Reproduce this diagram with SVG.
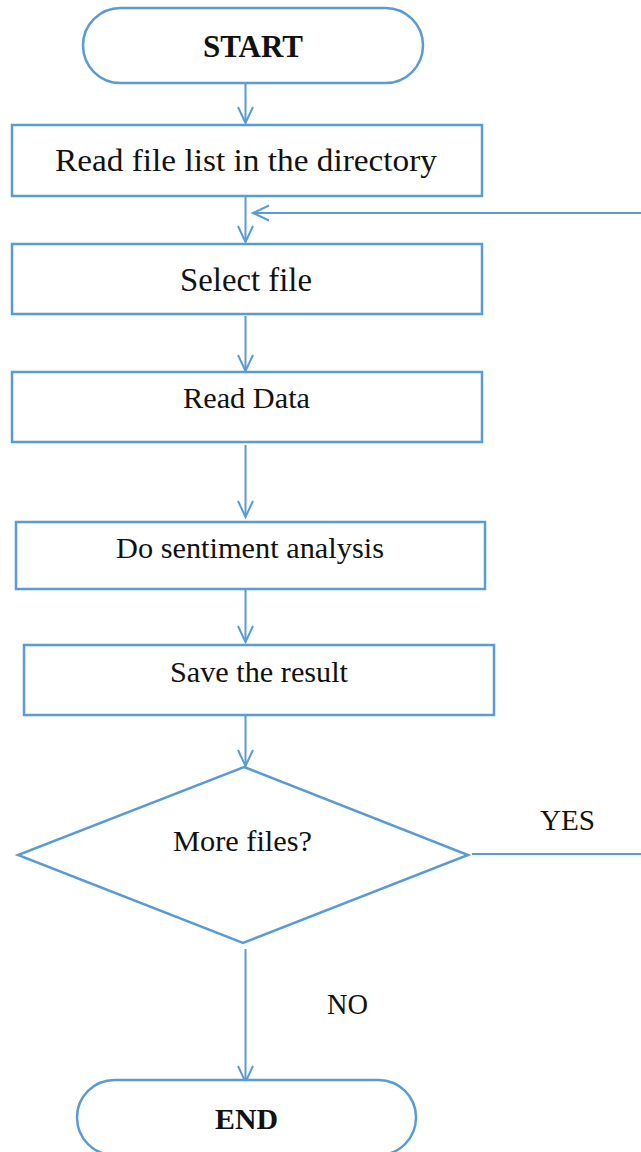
<svg xmlns="http://www.w3.org/2000/svg" width="641" height="1152" viewBox="0 0 641 1152">
<style>
.s{fill:#fff;stroke:#5B9BD5;stroke-width:2.5}
.c{fill:none;stroke:#5B9BD5;stroke-width:2}
.t{font-family:"Liberation Serif","Times New Roman",serif;fill:#111}
.b{font-weight:bold}
</style>
<defs>
<marker id="ah" markerUnits="userSpaceOnUse" markerWidth="20" markerHeight="20" viewBox="-18 -10 20 20" refX="0" refY="0" orient="auto">
<path d="M-16,-7.5 L0,0 L-16,7.5" fill="none" stroke="#5B9BD5" stroke-width="2"/>
</marker>
</defs>
<rect width="641" height="1152" fill="#fff"/>
<g id="connectors">
<line class="c" x1="245.5" y1="84" x2="245.5" y2="123" marker-end="url(#ah)"/>
<line class="c" x1="245.5" y1="197" x2="245.5" y2="242" marker-end="url(#ah)"/>
<line class="c" x1="641" y1="213" x2="253" y2="213" marker-end="url(#ah)"/>
<line class="c" x1="245.5" y1="316" x2="245.5" y2="371" marker-end="url(#ah)"/>
<line class="c" x1="245.5" y1="445" x2="245.5" y2="517" marker-end="url(#ah)"/>
<line class="c" x1="245.5" y1="590" x2="245.5" y2="642" marker-end="url(#ah)"/>
<line class="c" x1="245.5" y1="706" x2="245.5" y2="766" marker-end="url(#ah)"/>
<line class="c" x1="245.5" y1="949" x2="245.5" y2="1082" marker-end="url(#ah)"/>
<line class="c" x1="472" y1="854" x2="641" y2="854"/>
<text class="t" x="540" y="830" font-size="30" textLength="55" lengthAdjust="spacingAndGlyphs">YES</text>
<text class="t" x="327" y="1014" font-size="29" textLength="41" lengthAdjust="spacingAndGlyphs">NO</text>
</g>
<g id="start">
<rect class="s" x="83" y="8" width="340" height="75" rx="37.5" ry="37.5"/>
<text class="t b" x="203" y="57" font-size="31" textLength="100" lengthAdjust="spacingAndGlyphs">START</text>
</g>
<g id="read-list">
<rect class="s" x="12" y="125" width="470" height="71"/>
<text class="t" x="55" y="171" font-size="31" textLength="382" lengthAdjust="spacingAndGlyphs">Read file list in the directory</text>
</g>
<g id="select-file">
<rect class="s" x="12" y="244" width="470" height="70"/>
<text class="t" x="180" y="291" font-size="34" textLength="132" lengthAdjust="spacingAndGlyphs">Select file</text>
</g>
<g id="read-data">
<rect class="s" x="12" y="372" width="470" height="70"/>
<text class="t" x="183" y="408" font-size="29" textLength="127" lengthAdjust="spacingAndGlyphs">Read Data</text>
</g>
<g id="sentiment">
<rect class="s" x="16" y="522" width="469" height="67"/>
<text class="t" x="116" y="558" font-size="29" textLength="268" lengthAdjust="spacingAndGlyphs">Do sentiment analysis</text>
</g>
<g id="save">
<rect class="s" x="24" y="645" width="470" height="70"/>
<text class="t" x="170" y="682" font-size="30" textLength="178" lengthAdjust="spacingAndGlyphs">Save the result</text>
</g>
<g id="decision">
<polygon class="s" points="244,767 468,855 243,943 18,855"/>
<text class="t" x="173" y="851" font-size="29" textLength="139" lengthAdjust="spacingAndGlyphs">More files?</text>
</g>
<g id="end">
<rect class="s" x="77" y="1080" width="339" height="75" rx="37.5" ry="37.5"/>
<text class="t b" x="215" y="1129" font-size="30" textLength="63" lengthAdjust="spacingAndGlyphs">END</text>
</g>
</svg>
